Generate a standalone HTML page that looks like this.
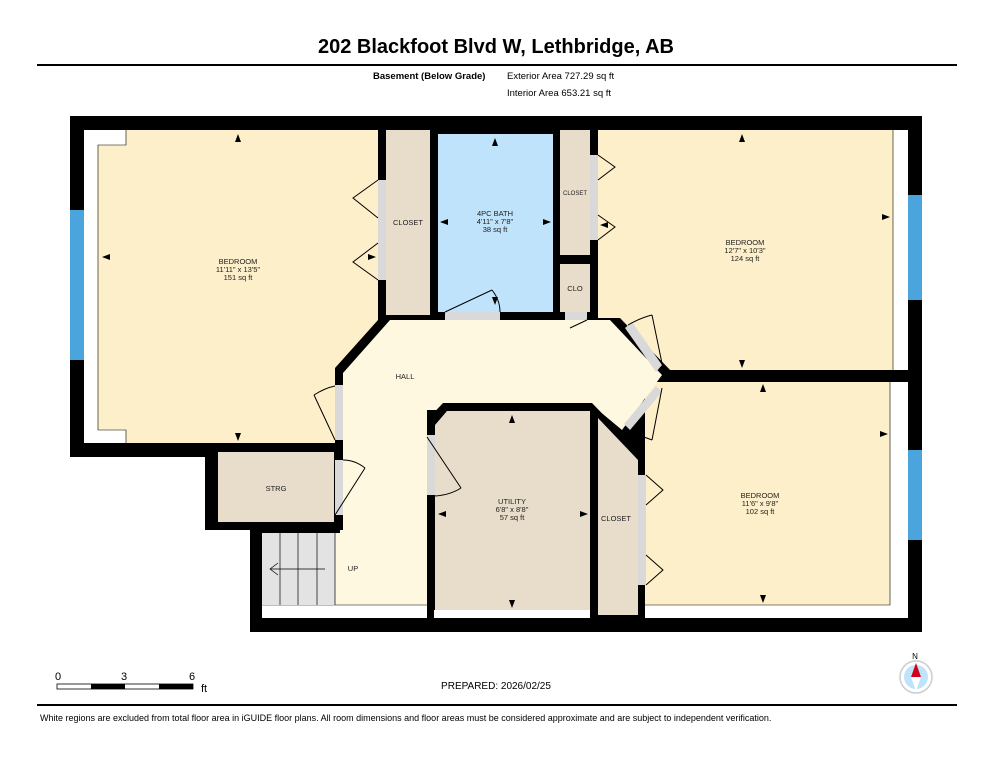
<!DOCTYPE html>
<html><head><meta charset="utf-8"><style>
body{margin:0;background:#fff;width:993px;height:768px;overflow:hidden;font-family:"Liberation Sans",sans-serif}
</style></head><body>
<svg width="993" height="768" viewBox="0 0 993 768" xmlns="http://www.w3.org/2000/svg" font-family="Liberation Sans, sans-serif">
<text x="496" y="53" font-size="20" font-weight="bold" text-anchor="middle">202 Blackfoot Blvd W, Lethbridge, AB</text>
<rect x="37" y="64" width="920" height="2" fill="#000"/>
<text x="373" y="79" font-size="9.5" font-weight="bold">Basement (Below Grade)</text>
<text x="507" y="79" font-size="9.5">Exterior Area 727.29 sq ft</text>
<text x="507" y="96" font-size="9.5">Interior Area 653.21 sq ft</text>

<!-- outer black -->
<polygon points="70,116 922,116 922,632 250,632 250,530 205,530 205,457 70,457" fill="#000"/>
<!-- left bedroom -->
<rect x="84" y="130" width="294" height="313" fill="#fff"/>
<rect x="126" y="130" width="252" height="313" fill="#fdefc9"/>
<rect x="98" y="145" width="30" height="285" fill="#fdefc9"/>
<polyline points="126,130 126,145 98,145 98,430 126,430 126,443" fill="none" stroke="#000" stroke-width="0.6"/>
<rect x="70" y="210" width="14" height="150" fill="#4aa5dc"/>
<!-- closet -->
<rect x="386" y="130" width="44" height="185" fill="#e8dccb"/>
<!-- bath -->
<rect x="438" y="134" width="115" height="178" fill="#bfe3fb"/>
<!-- closet2 / CLO -->
<rect x="560" y="130" width="30" height="125" fill="#e8dccb"/>
<rect x="560" y="264" width="30" height="48" fill="#e8dccb"/>
<!-- right bedroom -->
<rect x="598" y="130" width="310" height="240" fill="#fdefc9"/>
<rect x="893" y="130" width="15" height="240" fill="#fff"/>
<line x1="893" y1="130" x2="893" y2="370" stroke="#000" stroke-width="0.6"/>
<rect x="908" y="195" width="14" height="105" fill="#4aa5dc"/>
<!-- wall right bedroom lower corner chamfer -->
<polygon points="598,318 620,318 672,372 665,382 612,328 598,328" fill="#000"/>
<!-- bottom right bedroom -->
<rect x="645" y="382" width="263" height="223" fill="#fdefc9"/>
<rect x="890" y="382" width="18" height="236" fill="#fff"/>
<rect x="645" y="605" width="263" height="13" fill="#fff"/>
<polyline points="645,605 890,605 890,382" fill="none" stroke="#000" stroke-width="0.6"/>
<rect x="908" y="450" width="14" height="90" fill="#4aa5dc"/>
<!-- hall -->
<polygon points="386,320 610,320 662,375 622,430 598,410 427,410 427,605 262,605 262,533 340,533 340,370" fill="#fef8e1"/>
<rect x="262" y="605" width="383" height="13" fill="#fff"/>
<line x1="262" y1="605" x2="645" y2="605" stroke="#000" stroke-width="0.6"/>
<!-- hall diagonal wall left -->
<polygon points="378,320 390,320 343,373 343,440 335,440 335,368" fill="#000"/>
<rect x="335" y="440" width="8" height="90" fill="#000"/>
<!-- utility -->
<polygon points="427,420 443,403 592,403 645,458 645,618 427,618" fill="#000"/>
<polygon points="435,425 447,411 590,411 590,610 435,610" fill="#e8dccb"/>
<polygon points="598,418 638,460 638,615 598,615" fill="#e8dccb"/>
<rect x="434" y="610" width="156" height="8" fill="#fff"/>
<!-- strg -->
<rect x="218" y="452" width="116" height="70" fill="#e8dccb"/>
<!-- stairs -->
<rect x="262" y="533" width="73" height="72" fill="#e3e3e3"/>
<g stroke="#000" stroke-width="0.7"><line x1="280" y1="533" x2="280" y2="605"/><line x1="298" y1="533" x2="298" y2="605"/><line x1="317" y1="533" x2="317" y2="605"/><line x1="335" y1="533" x2="335" y2="605"/>
<line x1="270" y1="569" x2="325" y2="569"/><polyline points="278,563 270,569 278,575" fill="none"/></g>
<!-- door openings (gray) -->
<g fill="#d9d9d9">
<rect x="378" y="180" width="8" height="100"/>
<rect x="590" y="155" width="8" height="85"/>
<rect x="445" y="312" width="55" height="8"/>
<rect x="565" y="312" width="22" height="8"/>
<rect x="335" y="385" width="8" height="55"/>
<rect x="335" y="460" width="8" height="55"/>
<rect x="427" y="435" width="8" height="60"/>
<rect x="638" y="475" width="8" height="110"/>
<polygon points="625,328 632,322 662,365 656,372"/>
<polygon points="624,424 656,386 662,392 630,430"/>
</g>
<!-- door swings -->
<g stroke="#000" stroke-width="1" fill="none">
<polyline points="378,180 353,198 378,218"/><polyline points="378,243 353,262 378,280"/>
<polyline points="598,155 615,167 598,180"/><polyline points="598,215 615,227 598,240"/>
<line x1="445" y1="312" x2="492" y2="290"/><path d="M492,290 Q500,300 500,312"/>
<line x1="587" y1="320" x2="570" y2="328"/>
<line x1="335" y1="440" x2="314" y2="395"/><path d="M314,395 Q325,388 335,386"/>
<line x1="335" y1="515" x2="365" y2="468"/><path d="M365,468 Q355,460 343,460"/>
<line x1="427" y1="437" x2="461" y2="488"/><path d="M461,488 Q450,495 435,496"/>
<polyline points="646,475 663,490 646,505"/><polyline points="646,555 663,570 646,585"/>
<line x1="664" y1="373" x2="652" y2="315"/><path d="M652,315 Q640,318 628,325"/>
<line x1="662" y1="388" x2="652" y2="440"/><path d="M652,440 Q638,435 628,430"/>
</g>
<!-- dimension arrows -->
<g fill="#000" font-size="0">
<polygon points="238,134 235,142 241,142"/><polygon points="238,441 235,433 241,433"/>
<polygon points="102,257 110,254 110,260"/><polygon points="376,257 368,254 368,260"/>
<polygon points="495,138 492,146 498,146"/><polygon points="495,305 492,297 498,297"/>
<polygon points="440,222 448,219 448,225"/><polygon points="551,222 543,219 543,225"/>
<polygon points="742,134 739,142 745,142"/><polygon points="742,368 739,360 745,360"/>
<polygon points="600,225 608,222 608,228"/><polygon points="890,217 882,214 882,220"/>
<polygon points="763,384 760,392 766,392"/><polygon points="763,603 760,595 766,595"/>
<polygon points="627,434 635,431 635,437"/><polygon points="888,434 880,431 880,437"/>
<polygon points="512,415 509,423 515,423"/><polygon points="512,608 509,600 515,600"/>
<polygon points="438,514 446,511 446,517"/><polygon points="588,514 580,511 580,517"/>
</g>
<!-- labels -->
<g font-size="7.5" text-anchor="middle" fill="#222">
<text x="238" y="264">BEDROOM</text><text x="238" y="272">11'11" x 13'5"</text><text x="238" y="280">151 sq ft</text>
<text x="408" y="225">CLOSET</text>
<text x="495" y="216">4PC BATH</text><text x="495" y="224">4'11" x 7'8"</text><text x="495" y="232">38 sq ft</text>
<text x="575" y="195" font-size="6">CLOSET</text>
<text x="575" y="291">CLO</text>
<text x="745" y="245">BEDROOM</text><text x="745" y="253">12'7" x 10'3"</text><text x="745" y="261">124 sq ft</text>
<text x="405" y="379">HALL</text>
<text x="760" y="498">BEDROOM</text><text x="760" y="506">11'6" x 9'8"</text><text x="760" y="514">102 sq ft</text>
<text x="512" y="504">UTILITY</text><text x="512" y="512">6'8" x 8'8"</text><text x="512" y="520">57 sq ft</text>
<text x="616" y="521">CLOSET</text>
<text x="276" y="491">STRG</text>
<text x="353" y="571">UP</text>
</g>
<!-- scale -->
<g font-size="11">
<text x="55" y="680">0</text><text x="121" y="680">3</text><text x="189" y="680">6</text><text x="201" y="692">ft</text>
</g>
<rect x="57" y="684" width="136" height="5" fill="#fff" stroke="#000" stroke-width="0.8"/>
<rect x="91" y="684" width="34" height="5" fill="#000"/><rect x="159" y="684" width="34" height="5" fill="#000"/>
<text x="496" y="689" font-size="10" text-anchor="middle">PREPARED: 2026/02/25</text>
<!-- compass -->
<text x="915" y="659" font-size="8" text-anchor="middle">N</text>
<circle cx="916" cy="677" r="16" fill="#fff" stroke="#ccc" stroke-width="1.5"/>
<circle cx="916" cy="677" r="12" fill="#bfe3fb"/>
<polygon points="916,663 911,677 921,677" fill="#d0021b"/>
<polygon points="916,691 911,677 921,677" fill="#fff"/>
<rect x="37" y="704" width="920" height="2" fill="#000"/>
<text x="40" y="721" font-size="9">White regions are excluded from total floor area in iGUIDE floor plans. All room dimensions and floor areas must be considered approximate and are subject to independent verification.</text>
</svg>
</body></html>
